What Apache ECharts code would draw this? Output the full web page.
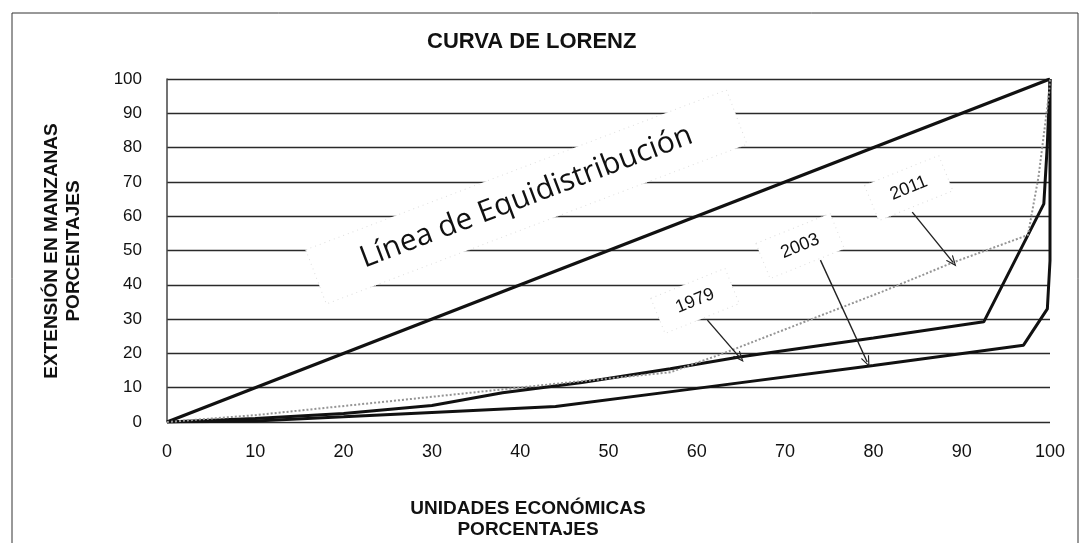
<!DOCTYPE html>
<html>
<head>
<meta charset="utf-8">
<script src="https://cdn.jsdelivr.net/npm/echarts@6/dist/echarts.min.js"></script>
<style>
  html, body { margin: 0; padding: 0; background: #fff; }
  #chart { width: 1081px; height: 543px; }
</style>
</head>
<body>
<div id="chart"></div>
<script>
// datos (porcentajes acumulados)
const lineaX = [0, 100]
const lineaY = [0, 100]
const x1979 = [0, 10, 20, 30, 38, 47, 57, 65, 80, 92.5, 99.3, 99.7, 100]
const y1979 = [0, 1, 2.5, 4.8, 8.5, 11.5, 15.5, 19, 24.5, 29.2, 63.6, 81, 100]
const x2003 = [0, 10, 20, 30, 44, 60, 80, 97, 99.7, 100, 100]
const y2003 = [0, 0.3, 1.5, 2.8, 4.5, 9.8, 16.5, 22.4, 33, 47, 100]
const x2011 = [0, 10, 25, 45, 57, 63, 81, 89, 97.5, 98.7, 99.9, 100]
const y2011 = [0, 2, 6, 11.4, 14.5, 20, 38, 46.5, 54.5, 71.5, 96, 100]
const xTicks = [0, 10, 20, 30, 40, 50, 60, 70, 80, 90, 100]

// anotaciones (en unidades de los ejes)
const etiquetas = ['Línea de Equidistribución', '1979', '2003', '2011']
const etiquetaPos = [[40.7, 65.6], [59.8, 35.3], [71.7, 51.3], [84.0, 68.2]]
const flechaDesde = [[61.2, 29.7], [74.0, 47.2], [84.4, 61.2]]
const flechaHasta = [[64.9, 18.7], [79.3, 17.5], [89.0, 46.6]]

function zip (xs, ys) {
  let out = []
  for (let i = 0; i < xs.length; i++) out.push([xs[i], ys[i]])
  return out
}

const chart = echarts.init(document.getElementById('chart'))
const fuente = "'Liberation Sans', Arial, sans-serif"
const negro = '#111'

const option = {
  animation: false,
  backgroundColor: '#fff',
  title: {
    text: 'CURVA DE LORENZ',
    left: 422,
    top: 26,
    textStyle: { fontSize: 22, fontWeight: 'bold', fontFamily: fuente, color: negro }
  },
  grid: { left: 167, right: 31, top: 79, bottom: 121, containLabel: false },
  xAxis: {
    type: 'value',
    min: xTicks[0],
    max: xTicks[xTicks.length - 1],
    interval: 10,
    axisLine: { show: false },
    axisTick: { show: false },
    splitLine: { show: false },
    axisLabel: { fontSize: 18, fontFamily: fuente, color: negro, margin: 21 }
  },
  yAxis: {
    type: 'value',
    min: 0,
    max: 100,
    interval: 10,
    axisLine: { show: true, lineStyle: { color: '#444', width: 1.5 } },
    axisTick: { show: false },
    splitLine: { show: true, lineStyle: { color: '#2a2a2a', width: 1.3 } },
    axisLabel: { fontSize: 17, fontFamily: fuente, color: negro, margin: 25 }
  },
  series: [
    {
      name: 'Equidistribución', type: 'line', symbol: 'none', z: 3,
      data: zip(lineaX, lineaY),
      lineStyle: { color: negro, width: 3.2 }
    },
    {
      name: '1979', type: 'line', symbol: 'none', z: 3,
      data: zip(x1979, y1979),
      lineStyle: { color: negro, width: 3 }
    },
    {
      name: '2003', type: 'line', symbol: 'none', z: 3,
      data: zip(x2003, y2003),
      lineStyle: { color: negro, width: 3 }
    },
    {
      name: '2011', type: 'line', symbol: 'none', z: 4,
      data: zip(x2011, y2011),
      lineStyle: { color: '#959595', width: 2, type: [2, 2] }
    },
    {
      name: 'flechas', type: 'line', data: [], z: 6,
      markLine: {
        silent: true,
        symbol: ['none', 'path://M0,12 L5,0 L10,12 L8.6,12 L5,3.4 L1.4,12 Z'],
        symbolSize: [9, 11],
        label: { show: false },
        lineStyle: { color: '#222', width: 1.4, type: 'solid' },
        data: flechaDesde.map((d, i) => [{ coord: d }, { coord: flechaHasta[i] }])
      }
    }
  ]
}
chart.setOption(option)

// cajas de texto rotadas y titulos de ejes
const graficos = [
  {
    type: 'rect', z: 0,
    shape: { x: 12, y: 13, width: 1066, height: 560 },
    style: { fill: 'none', stroke: '#333', lineWidth: 1 }
  },
  {
    type: 'text', x: 63, y: 251, rotation: Math.PI / 2, z: 5,
    style: {
      text: 'EXTENSIÓN EN MANZANAS\nPORCENTAJES', textAlign: 'center', textVerticalAlign: 'middle',
      font: 'bold 19px ' + fuente, fill: negro, lineHeight: 22
    }
  },
  {
    type: 'text', x: 528, y: 519, z: 5,
    style: {
      text: 'UNIDADES ECONÓMICAS\nPORCENTAJES', textAlign: 'center', textVerticalAlign: 'middle',
      font: 'bold 19px ' + fuente, fill: negro, lineHeight: 21
    }
  }
]
etiquetas.forEach((t, i) => {
  const p = chart.convertToPixel({ gridIndex: 0 }, etiquetaPos[i])
  const grande = i === 0
  const w = grande ? 450 : 80
  const h = grande ? 58 : 38
  graficos.push({
    type: 'group', x: p[0], y: p[1], z: 4,
    rotation: (grande ? 20.8 : 22) * Math.PI / 180,
    children: [
      {
        type: 'rect', shape: { x: -w / 2, y: -h / 2, width: w, height: h },
        style: { fill: '#fff', stroke: '#dedede', lineWidth: 1, lineDash: [1, 4] }
      },
      {
        type: 'text',
        style: {
          text: t, x: 0, y: 0, textAlign: 'center', textVerticalAlign: 'middle',
          font: grande ? "30px 'Open Sans', 'Noto Sans', sans-serif" : '18px ' + fuente,
          fill: negro
        }
      }
    ]
  })
})
chart.setOption({ graphic: graficos })
</script>
</body>
</html>
